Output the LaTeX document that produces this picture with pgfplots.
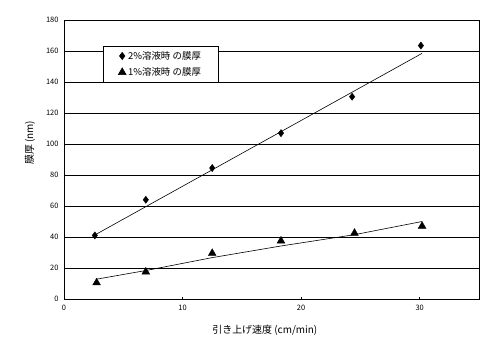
\documentclass[border=0pt]{standalone}
\usepackage{pgfplots}
\pgfplotsset{compat=1.18}
\usepackage{fontspec}
\setmainfont{Noto Sans CJK JP}
\begin{document}
\begin{tikzpicture}
\path[use as bounding box] (-64bp,-56bp) rectangle (439bp,299bp);
\begin{axis}[
  scale only axis,
  width=415bp, height=279bp,
  xmin=0, xmax=35, ymin=0, ymax=180,
  xtick={0,10,20,30}, ytick={0,20,...,180},
  ymajorgrids, major grid style={black, line width=0.6pt},
  axis line style={black, line width=0.9pt},
  xtick pos=bottom, ytick pos=left,
  tick align=inside,
  major tick length=2bp,
  ytick style={draw=none},
  xtick style={black, line width=0.6pt},
  /pgf/number format/assume math mode=true,
  tick label style={font=\fontsize{7.5}{9}\selectfont},
  xticklabel style={yshift=-3bp},
  yticklabel style={xshift=-2bp},
  xlabel={引き上げ速度 (cm/min)},
  ylabel={膜厚 (nm)},
  label style={font=\fontsize{10}{12}\selectfont},
  xlabel style={at={(axis description cs:0.484,0)}, anchor=center, yshift=-31bp},
  ylabel style={at={(axis description cs:0,0.56)}, anchor=center, rotate=0, yshift=34bp},
  legend style={at={(rel axis cs:0.094,0.907)}, anchor=north west, draw=black, line width=0.6pt,
    font=\fontsize{9.5}{11}\selectfont, inner xsep=15bp, inner ysep=3bp, row sep=3bp},
  legend cell align=left,
]
\addplot[only marks, mark=diamond*, mark size=3.6bp, black] coordinates {
  (2.6,41) (6.9,64) (12.5,84.5) (18.3,107) (24.3,130.5) (30.1,163.5)};
\addlegendentry{2\%溶液時 の膜厚}
\addplot[only marks, mark=triangle*, mark size=4.5bp, black] coordinates {
  (2.75,10.5) (6.9,17.5) (12.5,29.5) (18.3,37.5) (24.5,42.5) (30.2,47)};
\addlegendentry{1\%溶液時 の膜厚}
\addplot[black, line width=0.6pt, forget plot] coordinates {(2.6,41.3) (30.2,158.5)};
\addplot[black, line width=0.6pt, forget plot] coordinates {
  (2.75,12.8) (7,18.5) (12.5,26.7) (18.3,34.2) (24.5,41.5) (30.2,50)};
\end{axis}
\end{tikzpicture}
\end{document}
